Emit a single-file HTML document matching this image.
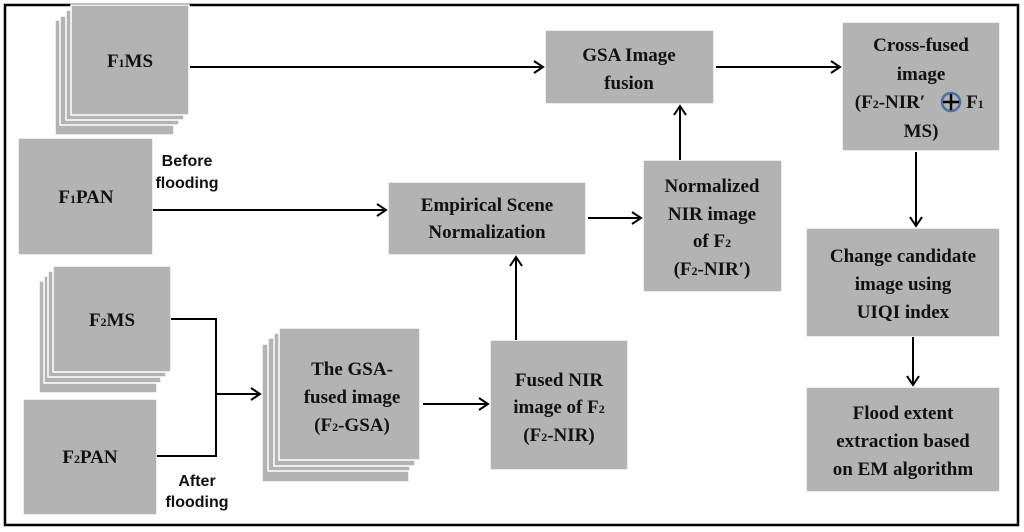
<!DOCTYPE html>
<html><head><meta charset="utf-8"><style>
html,body{margin:0;padding:0;background:#fff;}
svg{display:block;}
text{font-family:"Liberation Serif",serif;font-weight:bold;font-size:19px;fill:#111;text-anchor:middle;}
.s{font-family:"Liberation Sans",sans-serif;font-size:16px;}
.sub{font-size:12px;}
</style></head><body>
<svg width="1024" height="532" viewBox="0 0 1024 532" xmlns="http://www.w3.org/2000/svg">
<defs><marker id="a" markerWidth="14" markerHeight="14" refX="11" refY="7" orient="auto" markerUnits="userSpaceOnUse"><path d="M2,1 L11,7 L2,13" fill="none" stroke="#000" stroke-width="2"/></marker></defs>
<rect x="5" y="5" width="1013" height="520" fill="#fff" stroke="#000" stroke-width="2.5"/>
<g fill="#b3b3b3" stroke="#fff" stroke-width="1.5">
<rect x="55" y="20" width="119" height="115"/><rect x="60" y="16" width="119" height="109"/><rect x="66" y="10" width="118" height="110"/><rect x="71" y="5" width="118" height="110"/>
<rect x="18" y="138" width="135" height="117"/>
<rect x="39" y="281" width="118" height="112"/><rect x="44" y="276" width="117" height="107"/><rect x="48" y="271" width="118" height="106"/><rect x="53" y="266" width="118" height="106"/>
<rect x="23" y="399" width="134" height="116"/>
<rect x="262" y="344" width="147" height="138"/><rect x="268" y="338" width="142" height="133"/><rect x="274" y="333" width="141" height="133"/><rect x="279" y="328" width="141" height="132"/>
<rect x="490" y="340" width="138" height="130"/>
<rect x="388" y="182" width="198" height="73"/>
<rect x="545" y="30" width="169" height="74"/>
<rect x="643" y="160" width="139" height="132"/>
<rect x="842" y="22" width="158" height="129"/>
<rect x="806" y="228" width="194" height="109"/>
<rect x="806" y="387" width="194" height="105"/>
</g>
<g stroke="#000" stroke-width="2" fill="none">
<line x1="190" y1="67" x2="543" y2="67" marker-end="url(#a)"/>
<line x1="153" y1="210" x2="386" y2="210" marker-end="url(#a)"/>
<line x1="588" y1="218" x2="641" y2="218" marker-end="url(#a)"/>
<line x1="680" y1="160" x2="680" y2="106" marker-end="url(#a)"/>
<line x1="716" y1="67" x2="840" y2="67" marker-end="url(#a)"/>
<line x1="916" y1="152" x2="916" y2="226" marker-end="url(#a)"/>
<line x1="913" y1="337" x2="913" y2="385" marker-end="url(#a)"/>
<line x1="516" y1="340" x2="516" y2="257" marker-end="url(#a)"/>
<line x1="423" y1="404" x2="488" y2="404" marker-end="url(#a)"/>
<polyline points="171,319 216,319 216,456 157,456"/>
<line x1="216" y1="394" x2="260" y2="394" marker-end="url(#a)"/>
</g>
<text x="130" y="67">F<tspan class="sub">1</tspan>MS</text>
<text x="86" y="203">F<tspan class="sub">1</tspan>PAN</text>
<text class="s" x="187" y="166">Before</text>
<text class="s" x="187" y="188">flooding</text>
<text x="112" y="326">F<tspan class="sub">2</tspan>MS</text>
<text x="90" y="463">F<tspan class="sub">2</tspan>PAN</text>
<text class="s" x="197" y="486">After</text>
<text class="s" x="197" y="507">flooding</text>
<text x="352" y="375">The GSA-</text>
<text x="352" y="403">fused image</text>
<text x="352" y="431">(F<tspan class="sub">2</tspan>-GSA)</text>
<text x="559" y="386">Fused NIR</text>
<text x="559" y="413">image of F<tspan class="sub">2</tspan></text>
<text x="559" y="441">(F<tspan class="sub">2</tspan>-NIR)</text>
<text x="487" y="211">Empirical Scene</text>
<text x="487" y="238">Normalization</text>
<text x="629" y="61">GSA Image</text>
<text x="629" y="89">fusion</text>
<text x="712" y="192">Normalized</text>
<text x="712" y="220">NIR image</text>
<text x="712" y="247">of F<tspan class="sub">2</tspan></text>
<text x="712" y="275">(F<tspan class="sub">2</tspan>-NIR′)</text>
<text x="921" y="51">Cross-fused</text>
<text x="921" y="80">image</text>
<text x="890" y="108">(F<tspan class="sub">2</tspan>-NIR′</text>
<circle cx="951" cy="102" r="9" fill="none" stroke="#4a6fa5" stroke-width="2.5"/>
<line x1="943" y1="102" x2="959" y2="102" stroke="#000" stroke-width="2.5"/>
<line x1="951" y1="94" x2="951" y2="110" stroke="#000" stroke-width="2.5"/>
<text x="975" y="108">F<tspan class="sub">1</tspan></text>
<text x="921" y="137">MS)</text>
<text x="903" y="262">Change candidate</text>
<text x="903" y="290">image using</text>
<text x="903" y="318">UIQI index</text>
<text x="903" y="419">Flood extent</text>
<text x="903" y="447">extraction based</text>
<text x="903" y="475">on EM algorithm</text>
</svg>
</body></html>
